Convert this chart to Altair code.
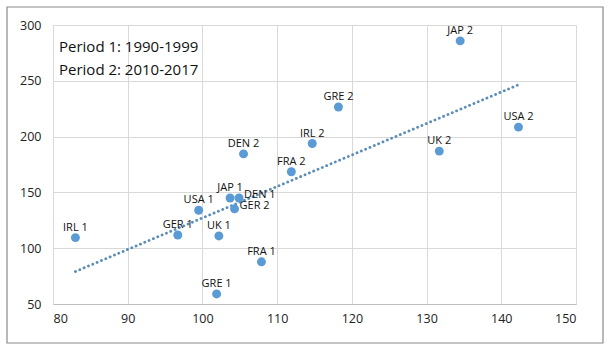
import altair as alt
import pandas as pd

labels = ["IRL 1", "GER 1", "USA 1", "UK 1", "GRE 1", "FRA 1", "JAP 1", "DEN 1",
          "GER 2", "DEN 2", "FRA 2", "IRL 2", "GRE 2", "JAP 2", "UK 2", "USA 2"]
x_vals = [83.0, 96.7, 99.5, 102.2, 101.9, 107.9, 103.7, 104.9,
          104.3, 105.5, 111.9, 114.7, 118.2, 134.5, 131.7, 142.3]
y_vals = [109.5, 111.8, 134.0, 111.0, 59.0, 87.8, 145.0, 145.0,
          135.3, 184.5, 168.5, 193.8, 226.5, 285.8, 187.0, 208.5]
right_labels = ["DEN 1", "GER 2"]
note_text = "Period 1: 1990-1999\nPeriod 2: 2010-2017"

df = pd.DataFrame({"label": labels, "x": x_vals, "y": y_vals})
W, H = 523, 279
FONT = "Open Sans"
BLUE = "#5b9bd5"

xs = alt.Scale(domain=[80, 150], nice=False, zero=False)
ys = alt.Scale(domain=[50, 300], nice=False, zero=False)

base = alt.Chart(df)

X = alt.X("x:Q", scale=xs, title=None,
          axis=alt.Axis(values=[80, 90, 100, 110, 120, 130, 140, 150],
                        title=None, grid=True, ticks=False,
                        domainColor="#bfbfbf", gridColor="#d9d9d9",
                        labelFont=FONT, labelFontSize=12.5,
                        labelColor="#222", labelPadding=8))
Y = alt.Y("y:Q", scale=ys, title=None,
          axis=alt.Axis(values=[50, 100, 150, 200, 250, 300],
                        title=None, grid=True, ticks=False,
                        domain=False, gridColor="#d9d9d9",
                        labelFont=FONT, labelFontSize=12.5,
                        labelColor="#222", labelPadding=12))

points = base.mark_circle(size=80, color=BLUE, opacity=1).encode(x=X, y=Y)

trend = base.transform_regression("x", "y").mark_line(
    color="#5a8db8", strokeDash=[0.1, 4.6], strokeWidth=2.8, strokeCap="round"
).encode(x=X, y=Y)

above = base.transform_filter(
    ~alt.FieldOneOfPredicate(field="label", oneOf=right_labels)
).mark_text(font=FONT, fontSize=11, dy=-10, color="#111", baseline="middle").encode(
    x=X, y=Y, text="label:N")

right = base.transform_filter(
    alt.FieldOneOfPredicate(field="label", oneOf=right_labels)
).mark_text(font=FONT, fontSize=11, dx=5, dy=-3, align="left", color="#111",
            baseline="middle").encode(x=X, y=Y, text="label:N")

note = alt.Chart(pd.DataFrame({"t": [note_text]})).mark_text(
    font=FONT, fontSize=15, align="left", baseline="alphabetic", color="#111",
    lineBreak="\n", lineHeight=22.5).encode(
    x=alt.value(6), y=alt.value(27), text="t:N")

frame = alt.Chart(pd.DataFrame({"a": [0]})).mark_rect(
    fill=None, stroke="#8a8a8a", strokeWidth=1.2).encode(
    x=alt.value(-46), x2=alt.value(W + 27), y=alt.value(-18), y2=alt.value(H + 39))

chart = alt.layer(trend, points, above, right, note, frame).properties(
    width=W, height=H,
    autosize=alt.AutoSizeParams(type="none"),
    padding={"left": 53, "top": 25, "right": 36, "bottom": 48},
).configure_view(stroke=None).configure(background="white")

chart.save("out.html", embed_options={"renderer": "svg", "actions": False})
